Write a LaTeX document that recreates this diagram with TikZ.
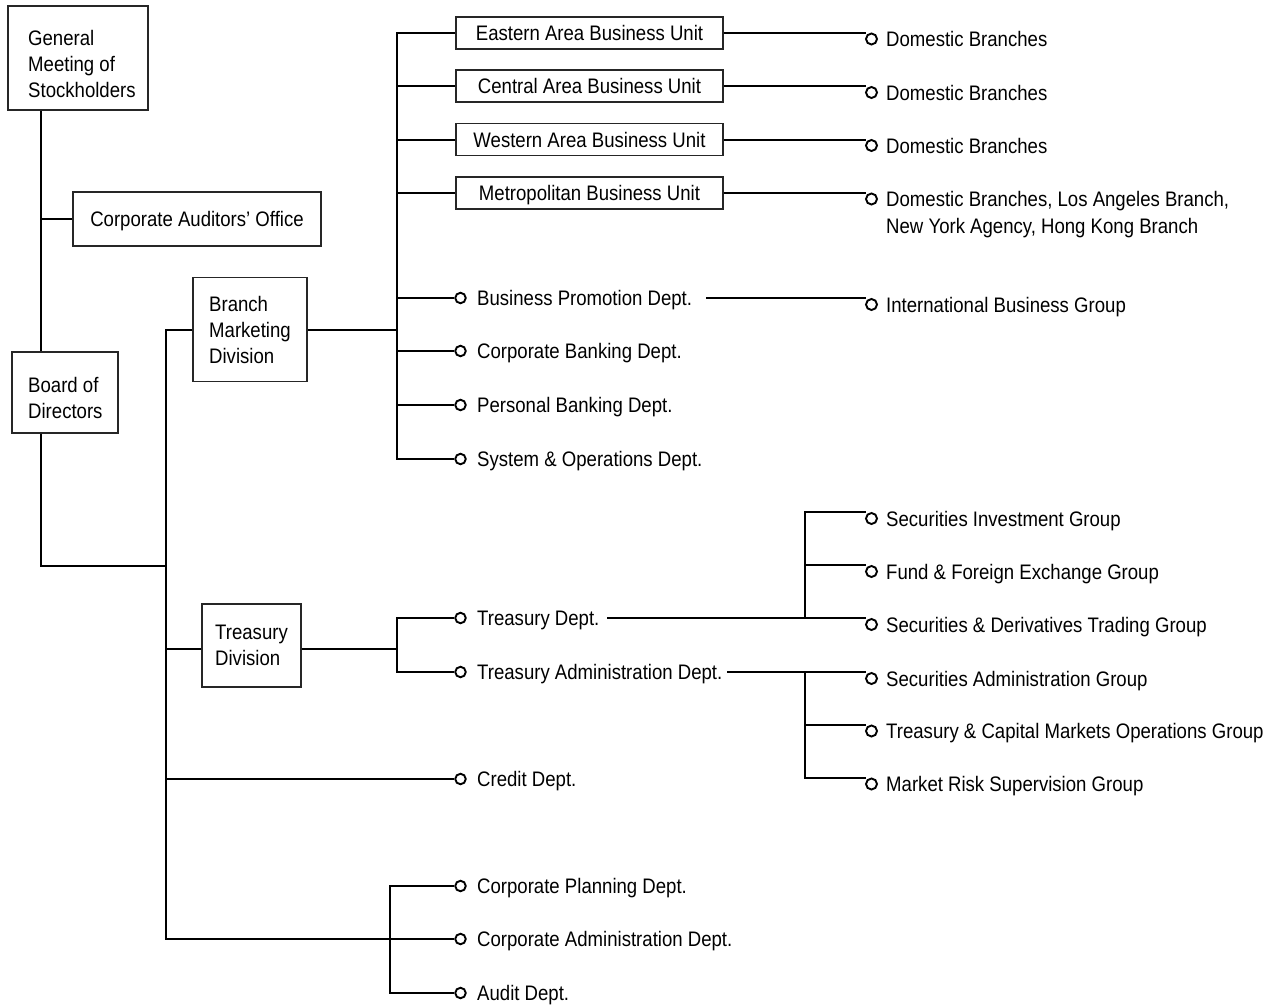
\documentclass[tikz,border=0pt]{standalone}
\usepackage{fontspec}
\setmainfont[FakeStretch=0.885]{Liberation Sans}
\usetikzlibrary{calc}
\newcommand\chartfont{\fontsize{21}{26}\selectfont}
\begin{document}
\begin{tikzpicture}[x=1pt,y=-1pt,
  conn/.style={line width=2pt},
  box/.style={draw=black!85, line width=1.1pt, inner sep=0pt, font=\chartfont},
  onebox/.style={box, text height=15pt, text depth=0pt},
  unitbox/.style={onebox, minimum width=267pt, minimum height=32pt},
  txt/.style={inner sep=0pt, align=left, font=\chartfont},
  dot/.style={circle, draw, line width=1.9pt, minimum size=10.5pt, inner sep=0pt},
  rdot/.style={dot, minimum size=11pt},
  lbl/.style={anchor=base west, inner sep=0pt, font=\chartfont}]
\useasboundingbox (0,0) rectangle (1275,1007);

% helper x-positions of vertical connectors
\coordinate (vx) at (40.7,0);
\coordinate (spx) at (165.5,0);
\coordinate (bvx) at (397,0);
\coordinate (tvx) at (805,0);
\coordinate (cvx) at (390,0);
\coordinate (sj) at (165.5,566);
\coordinate (tj) at (0,649);

% boxes
\node[box, minimum width=140pt, minimum height=104pt] (gm) at (78,58) {};
\node[txt, anchor=west] (gmt) at (28,64) {General\\Meeting of\\Stockholders};
\node[onebox, minimum width=248pt, minimum height=54pt] (cao) at (197,219) {Corporate Auditors' Office};
\node[box, minimum width=106pt, minimum height=81pt] (board) at (65,392.5) {};
\node[txt, anchor=west] (boardt) at (28,398) {Board of\\Directors};
\node[box, align=left, minimum width=114pt, minimum height=104pt] (bmd) at (250,329.5) {Branch\\Marketing\\Division};
\node[box, align=left, minimum width=99pt, minimum height=83pt] (tdb) at (251.5,645.5) {Treasury\\Division};
\node[unitbox] (eu) at (589.5,33) {Eastern Area Business Unit};
\node[unitbox] (cu) at (589.5,86) {Central Area Business Unit};
\node[unitbox] (wu) at (589.5,139.5) {Western Area Business Unit};
\node[unitbox] (mu) at (589.5,193) {Metropolitan Business Unit};

% left dots and labels
\foreach \n/\y/\t in {bp/298/Business Promotion Dept.,
                      cb/351/Corporate Banking Dept.,
                      pb/405/Personal Banking Dept.,
                      so/459/System \& Operations Dept.,
                      td/618/Treasury Dept.,
                      ta/672/Treasury Administration Dept.,
                      cr/779/Credit Dept.,
                      cp/886/Corporate Planning Dept.,
                      ca/939/Corporate Administration Dept.,
                      au/993/Audit Dept.}{
  \node[dot] (\n) at (460.5,\y) {};
  \node[lbl] (l\n) at (477,\y+7.5) {\t};
}

% right dots and labels
\foreach \n/\y/\t in {r1/32.5/Domestic Branches,
                      r2/86/Domestic Branches,
                      r3/139/Domestic Branches,
                      ib/298/International Business Group,
                      sig/512/Securities Investment Group,
                      ffg/565/Fund \& Foreign Exchange Group,
                      sdt/618/Securities \& Derivatives Trading Group,
                      sag/672/Securities Administration Group,
                      tcm/724.5/Treasury \& Capital Markets Operations Group,
                      mrs/777.5/Market Risk Supervision Group}{
  \node[rdot] (\n) at (871.5,\y+6.5) {};
  \node[lbl] (l\n) at (886,\y+14) {\t};
}
\node[rdot] (r4) at (871.5,199) {};
\node[txt, anchor=north west, font=\fontsize{21}{27}\selectfont] (lr4) at (886,191) {Domestic Branches, Los Angeles Branch,\\New York Agency, Hong Kong Branch};

% start points of lines that leave a label
\coordinate (s1) at (706,298);
\coordinate (s2) at (607,618);
\coordinate (s3) at (727,672);

% connectors, left part
\draw[conn] (gm.south -| vx) -- (board.north -| vx);
\draw[conn] (cao.west) -- (cao.west -| vx);
\draw[conn] (board.south -| vx) |- (sj);
\draw[conn] (bmd.west) -- (bmd.west -| spx) -- (ca -| spx) -- (ca.west);
\draw[conn] (tdb.west |- tj) -- (tj -| spx);
\draw[conn] (cr -| spx) -- (cr.west);
\draw[conn] (cp.west) -- (cp -| cvx) -- (au -| cvx) -- (au.west);

% branch marketing
\draw[conn] (bmd.east) -- (bmd.east -| bvx);
\draw[conn] (eu.west) -- (eu.west -| bvx) -- (so -| bvx) -- (so.west);
\foreach \n in {cu,wu,mu} \draw[conn] (\n.west) -- (\n.west -| bvx);
\foreach \n in {bp,cb,pb} \draw[conn] (\n -| bvx) -- (\n.west);
\foreach \a/\b in {eu/r1,cu/r2,wu/r3,mu/r4} \draw[conn] (\a.east) -- (\a.east -| \b.150);
\draw[conn] (s1) -- (s1 -| ib.150);

% treasury
\draw[conn] (tdb.east |- tj) -- (tj -| bvx);
\draw[conn] (td.west) -- (td -| bvx) -- (ta -| bvx) -- (ta.west);
\draw[conn] (s2) -- (s2 -| sdt.150);
\draw[conn] (sig.north -| sig.150) -- (sig.north -| tvx) -- (s2 -| tvx);
\draw[conn] (ffg.north -| tvx) -- (ffg.north -| ffg.150);
\draw[conn] (s3) -- (s3 -| sag.150);
\draw[conn] (s3 -| tvx) -- (mrs.north -| tvx) -- (mrs.north -| mrs.150);
\draw[conn] (tcm.north -| tvx) -- (tcm.north -| tcm.150);
\end{tikzpicture}
\end{document}
